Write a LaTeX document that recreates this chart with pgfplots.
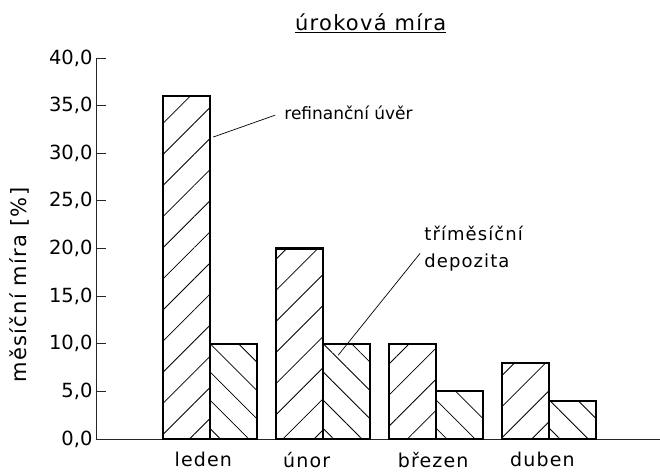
\documentclass[border=0pt]{standalone}
\usepackage{pgfplots}
\pgfplotsset{compat=1.18}
\usepackage{fontspec}
\setmainfont{DejaVu Sans}[LetterSpace=6]
\newfontfamily\plainfont{DejaVu Sans}
\usetikzlibrary{patterns.meta}
\begin{document}
\begin{tikzpicture}
\path[use as bounding box] (-96pt,-34pt) rectangle (564pt,439pt);
\begin{axis}[
  at={(0pt,0pt)}, anchor=south west,
  scale only axis, width=564pt, height=381pt,
  xmin=-1.01, xmax=3.98, ymin=0, ymax=40,
  axis x line=bottom, axis y line=left,
  axis line style={-, line width=0.9pt, black!85},
  ybar=0pt, bar width=47pt,
  ytick={0,5,...,40},
  tick align=inside, major tick length=10pt,
  ytick style={line width=0.9pt, black!85},
  xtick={-0.06,0.854,1.973,2.94},
  xticklabels={leden,únor,březen,duben},
  xtick style={draw=none},
  xticklabel style={font=\fontsize{19}{19}\selectfont, yshift=-10pt},
  yticklabel style={font=\plainfont\fontsize{19.5}{19.5}\selectfont,
    /pgf/number format/.cd, fixed, fixed zerofill, precision=1, use comma, assume math mode=true},
  clip=false,
]
\addplot[draw=black, line width=2.2pt, pattern color=black,
  pattern={Lines[angle=45,distance=22pt,line width=0.8pt]}]
  coordinates {(0,36) (1,20) (2,10) (3,8)};
\addplot[draw=black, line width=2.2pt, pattern color=black,
  pattern={Lines[angle=-45,distance=20pt,line width=0.8pt]}]
  coordinates {(0,10) (1,10) (2,5) (3,4)};

\node[font=\fontsize{21}{21}\selectfont] at (rel axis cs:0.487,1.09) {\underline{úroková míra}};
\node[rotate=90, font=\fontsize{21}{21}\selectfont] at (rel axis cs:-0.1348,0.404) {měsíční míra [\%]};

\draw[line width=0.7pt] (axis cs:0.027,31.7) -- (axis cs:0.575,34.0);
\node[anchor=west, inner sep=1pt, font=\plainfont\fontsize{17}{17}\selectfont] at (axis cs:0.646,34.2) {refinanční úvěr};

\draw[line width=0.7pt] (axis cs:1.858,19.5) -- (axis cs:1.133,8.8);
\node[anchor=west, inner sep=1pt, align=left, font=\fontsize{18}{27}\selectfont] at (axis cs:1.885,20.0) {tříměsíční\\depozita};
\end{axis}
\end{tikzpicture}
\end{document}
